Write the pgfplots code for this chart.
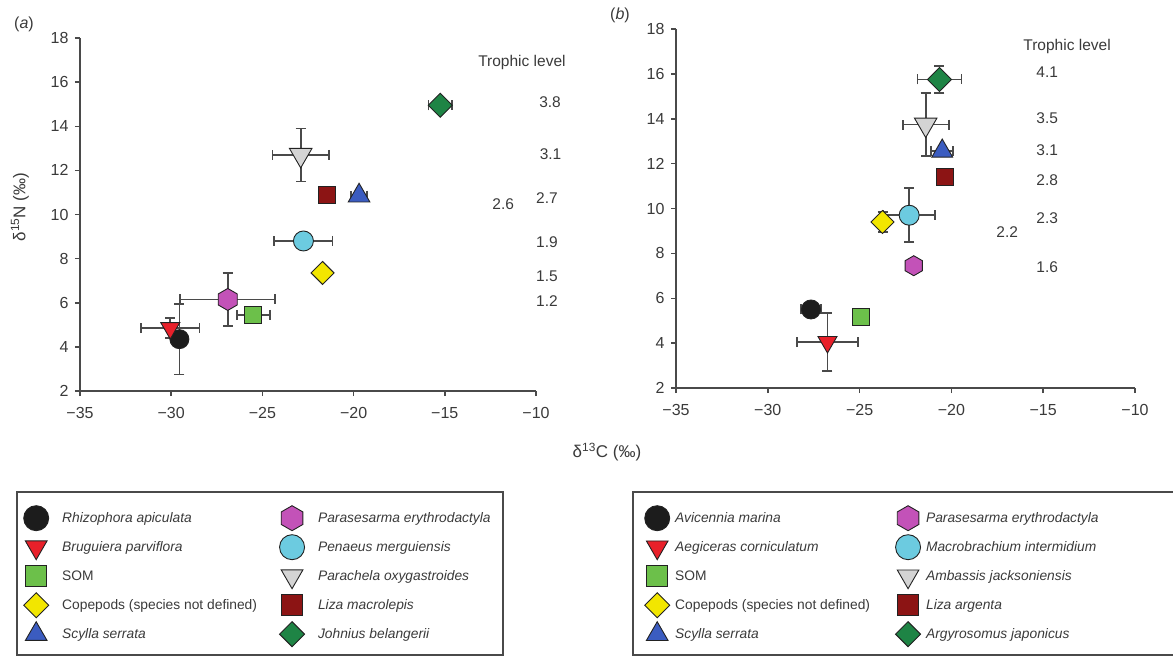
\documentclass[border=0pt]{standalone}
\usepackage{fontspec}
\setmainfont{Liberation Sans}
\usepackage{pgfplots}
\pgfplotsset{compat=1.18}

\definecolor{axgray}{HTML}{4A4A4A}
\definecolor{txtgray}{HTML}{3A3A3A}
\definecolor{mline}{HTML}{222222}
\definecolor{cblack}{HTML}{1C1C1C}
\definecolor{cred}{HTML}{E8202A}
\definecolor{clgreen}{HTML}{6CC04A}
\definecolor{cyellow}{HTML}{F2E600}
\definecolor{cblue}{HTML}{3B5CC0}
\definecolor{cmag}{HTML}{C352B8}
\definecolor{ccyan}{HTML}{6CCBE0}
\definecolor{cgrey}{HTML}{D4D4D4}
\definecolor{cdred}{HTML}{8C1414}
\definecolor{cdgreen}{HTML}{1E8445}

\pgfdeclareplotmark{tridown}{%
  \pgfpathmoveto{\pgfqpoint{0pt}{-\pgfplotmarksize}}%
  \pgfpathlineto{\pgfqpoint{0.866\pgfplotmarksize}{0.5\pgfplotmarksize}}%
  \pgfpathlineto{\pgfqpoint{-0.866\pgfplotmarksize}{0.5\pgfplotmarksize}}%
  \pgfpathclose\pgfusepathqfillstroke}
\pgfdeclareplotmark{triup}{%
  \pgfpathmoveto{\pgfqpoint{0pt}{\pgfplotmarksize}}%
  \pgfpathlineto{\pgfqpoint{0.866\pgfplotmarksize}{-0.5\pgfplotmarksize}}%
  \pgfpathlineto{\pgfqpoint{-0.866\pgfplotmarksize}{-0.5\pgfplotmarksize}}%
  \pgfpathclose\pgfusepathqfillstroke}
\pgfdeclareplotmark{diam}{%
  \pgfpathmoveto{\pgfqpoint{0pt}{\pgfplotmarksize}}%
  \pgfpathlineto{\pgfqpoint{\pgfplotmarksize}{0pt}}%
  \pgfpathlineto{\pgfqpoint{0pt}{-\pgfplotmarksize}}%
  \pgfpathlineto{\pgfqpoint{-\pgfplotmarksize}{0pt}}%
  \pgfpathclose\pgfusepathqfillstroke}
\pgfdeclareplotmark{sq}{%
  \pgfpathrectanglecorners{\pgfqpoint{-0.85\pgfplotmarksize}{-0.85\pgfplotmarksize}}{\pgfqpoint{0.85\pgfplotmarksize}{0.85\pgfplotmarksize}}%
  \pgfusepathqfillstroke}
\pgfdeclareplotmark{hexa}{%
  \pgfpathmoveto{\pgfqpoint{0pt}{\pgfplotmarksize}}%
  \pgfpathlineto{\pgfqpoint{0.866\pgfplotmarksize}{0.5\pgfplotmarksize}}%
  \pgfpathlineto{\pgfqpoint{0.866\pgfplotmarksize}{-0.5\pgfplotmarksize}}%
  \pgfpathlineto{\pgfqpoint{0pt}{-\pgfplotmarksize}}%
  \pgfpathlineto{\pgfqpoint{-0.866\pgfplotmarksize}{-0.5\pgfplotmarksize}}%
  \pgfpathlineto{\pgfqpoint{-0.866\pgfplotmarksize}{0.5\pgfplotmarksize}}%
  \pgfpathclose\pgfusepathqfillstroke}

\tikzset{tl/.style={font=\fontsize{15.5}{16}\selectfont, text=txtgray}}

\pgfplotsset{
  panel/.style={
    scale only axis, clip=false,
    xmin=-35, xmax=-10, ymin=2, ymax=18,
    axis x line*=bottom, axis y line*=left,
    axis line style={axgray, line width=1.8pt, -},
    tick align=outside, major tick length=5pt,
    tick style={axgray, line width=1.5pt},
    xtick={-35,-30,-25,-20,-15,-10},
    xticklabels={−35,−30,−25,−20,−15,−10},
    ytick={2,4,6,8,10,12,14,16,18},
    yticklabels={2,4,6,8,10,12,14,16,18},
    ticklabel style={font=\fontsize{16}{16}\selectfont, text=txtgray},
    xticklabel style={yshift=-8pt},
    yticklabel style={xshift=-3pt},
    legend columns=2,
    legend cell align=left,
    legend image code/.code={%
      \begin{pgfinterruptboundingbox}%
      \draw[##1, mark size=12.5pt] plot coordinates {(0pt,0pt)};%
      \end{pgfinterruptboundingbox}%
      \pgfpathrectanglecorners{\pgfqpoint{-12pt}{-13pt}}{\pgfqpoint{12pt}{13pt}}%
      \pgfusepath{use as bounding box}},
  },
  sp/.style={only marks, draw=axgray, line width=1.7pt, mark options={draw=mline, line width=0.9pt}},
  eb/.style={error bars/x dir=both, error bars/x explicit, error bars/y dir=both, error bars/y explicit,
    error bars/error bar style={draw=axgray, line width=1.7pt},
    error bars/error mark options={rotate=90, draw=axgray, line width=1.7pt, mark size=5pt}},
}

\begin{document}
\begin{tikzpicture}

% ---------------- panel (a) ----------------
\begin{axis}[panel, at={(80pt,266pt)}, anchor=south west, width=456pt, height=353pt,
  legend style={at={(-0.1228,-0.3229)}, anchor=north west, draw=none, fill=none, inner sep=0pt,
    font=\fontsize{13.8}{15}\selectfont\itshape, text=txtgray, row sep=3pt,
    /tikz/every odd column/.append style={column sep=12pt},
    /tikz/every even column/.append style={column sep=21pt}}]
\addplot[sp, mark=*, mark size=9.5pt, fill=cblack, eb] coordinates {(-29.55,4.35) +- (0.3,1.6)};
\addlegendentry{Rhizophora apiculata}
\addplot[sp, mark=hexa, mark size=11pt, fill=cmag, eb] coordinates {(-26.9,6.15) +- (2.6,1.2)};
\addlegendentry{Parasesarma erythrodactyla}
\addplot[sp, mark=tridown, mark size=11pt, fill=cred, eb] coordinates {(-30.05,4.85) +- (1.6,0.45)};
\addlegendentry{Bruguiera parviflora}
\addplot[sp, mark=*, mark size=10pt, fill=ccyan, eb] coordinates {(-22.75,8.8) +- (1.6,0.3)};
\addlegendentry{Penaeus merguiensis}
\addplot[sp, mark=sq, mark size=10pt, fill=clgreen, eb] coordinates {(-25.5,5.45) +- (0.9,0.2)};
\addlegendentry{\upshape SOM}
\addplot[sp, mark=tridown, mark size=13pt, fill=cgrey, eb] coordinates {(-22.9,12.7) +- (1.55,1.2)};
\addlegendentry{Parachela oxygastroides}
\addplot[sp, mark=diam, mark size=11.5pt, fill=cyellow] coordinates {(-21.7,7.35)};
\addlegendentry{\upshape Copepods (species not defined)}
\addplot[sp, mark=sq, mark size=10pt, fill=cdred] coordinates {(-21.45,10.9)};
\addlegendentry{Liza macrolepis}
\addplot[sp, mark=triup, mark size=12.5pt, fill=cblue, eb] coordinates {(-19.7,10.85) +- (0.45,0.1)};
\addlegendentry{Scylla serrata}
\addplot[sp, mark=diam, mark size=12pt, fill=cdgreen, eb] coordinates {(-15.25,14.95) +- (0.65,0.1)};
\addlegendentry{Johnius belangerii}

\node[tl] at (axis cs:-10.77,16.87) {Trophic level};
\node[tl] at (axis cs:-9.23,15.1) {3.8};
\node[tl] at (axis cs:-9.2,12.74) {3.1};
\node[tl] at (axis cs:-9.4,10.75) {2.7};
\node[tl] at (axis cs:-11.8,10.48) {2.6};
\node[tl] at (axis cs:-9.4,8.75) {1.9};
\node[tl] at (axis cs:-9.4,7.21) {1.5};
\node[tl] at (axis cs:-9.4,6.08) {1.2};
\end{axis}

% ---------------- panel (b) ----------------
\begin{axis}[panel, at={(676pt,269pt)}, anchor=south west, width=459pt, height=359pt,
  legend style={at={(-0.0675,-0.3259)}, anchor=north west, draw=none, fill=none, inner sep=0pt,
    font=\fontsize{13.8}{15}\selectfont\itshape, text=txtgray, row sep=3pt,
    /tikz/every odd column/.append style={column sep=4pt},
    /tikz/every even column/.append style={column sep=24pt}}]
\addplot[sp, mark=*, mark size=9.5pt, fill=cblack, eb] coordinates {(-27.65,5.5) +- (0.55,0.3)};
\addlegendentry{Avicennia marina}
\addplot[sp, mark=hexa, mark size=10pt, fill=cmag] coordinates {(-22.05,7.45)};
\addlegendentry{Parasesarma erythrodactyla}
\addplot[sp, mark=tridown, mark size=11pt, fill=cred, eb] coordinates {(-26.75,4.05) +- (1.65,1.3)};
\addlegendentry{Aegiceras corniculatum}
\addplot[sp, mark=*, mark size=10pt, fill=ccyan, eb] coordinates {(-22.3,9.7) +- (1.4,1.2)};
\addlegendentry{Macrobrachium intermidium}
\addplot[sp, mark=sq, mark size=10pt, fill=clgreen] coordinates {(-24.9,5.15)};
\addlegendentry{\upshape SOM}
\addplot[sp, mark=tridown, mark size=13pt, fill=cgrey, eb] coordinates {(-21.4,13.74) +- (1.25,1.4)};
\addlegendentry{Ambassis jacksoniensis}
\addplot[sp, mark=diam, mark size=11.5pt, fill=cyellow, eb] coordinates {(-23.75,9.4) +- (0.1,0.45)};
\addlegendentry{\upshape Copepods (species not defined)}
\addplot[sp, mark=sq, mark size=10pt, fill=cdred] coordinates {(-20.35,11.4)};
\addlegendentry{Liza argenta}
\addplot[sp, mark=triup, mark size=12pt, fill=cblue, eb] coordinates {(-20.5,12.56) +- (0.6,0.1)};
\addlegendentry{Scylla serrata}
\addplot[sp, mark=diam, mark size=12pt, fill=cdgreen, eb] coordinates {(-20.65,15.75) +- (1.2,0.6)};
\addlegendentry{Argyrosomus japonicus}

\node[tl] at (axis cs:-13.7,17.2) {Trophic level};
\node[tl] at (axis cs:-14.78,16.08) {4.1};
\node[tl] at (axis cs:-14.78,14.03) {3.5};
\node[tl] at (axis cs:-14.78,12.6) {3.1};
\node[tl] at (axis cs:-14.78,11.27) {2.8};
\node[tl] at (axis cs:-14.78,9.58) {2.3};
\node[tl] at (axis cs:-16.96,8.95) {2.2};
\node[tl] at (axis cs:-14.78,7.39) {1.6};
\end{axis}

% labels and legend frames
\node[font=\fontsize{17}{17}\selectfont, text=txtgray] at (607pt,205pt) {δ\textsuperscript{13}C (‰)};
\node[font=\fontsize{17}{17}\selectfont, text=txtgray, rotate=90] at (20pt,450pt) {δ\textsuperscript{15}N (‰)};
\node[font=\fontsize{16}{16}\selectfont, text=txtgray] at (24pt,633pt) {(\textit{a})};
\node[font=\fontsize{16}{16}\selectfont, text=txtgray] at (620pt,642pt) {(\textit{b})};
\draw[axgray, line width=1.3pt] (17pt,2pt) rectangle (503pt,165pt);
\draw[axgray, line width=1.3pt] (633pt,2pt) rectangle (1200pt,165pt);

\pgfresetboundingbox
\useasboundingbox (0pt,0pt) rectangle (1173pt,657pt);
\end{tikzpicture}
\end{document}
